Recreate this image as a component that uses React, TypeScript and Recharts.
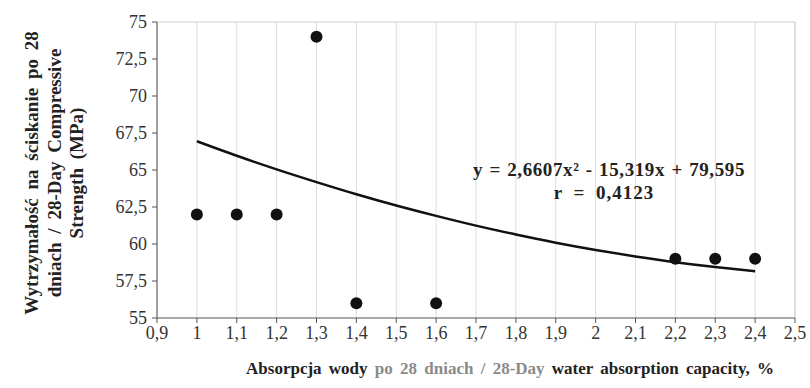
import React from 'react';
import {
  ComposedChart,
  Scatter,
  Line,
  XAxis,
  YAxis,
  CartesianGrid,
  ReferenceLine,
  Label,
} from 'recharts';

// measured points (water absorption %, compressive strength MPa)
const absorption = [1, 1.1, 1.2, 1.3, 1.4, 1.6, 2.2, 2.3, 2.4];
const strength = [62, 62, 62, 74, 56, 56, 59, 59, 59];

// trend curve
const trendX = [1, 1.1, 1.2, 1.3, 1.4, 1.5, 1.6, 1.7, 1.8, 1.9, 2, 2.1, 2.2, 2.3, 2.4];
const trendY = [66.94, 65.96, 65.04, 64.18, 63.36, 62.6, 61.9, 61.24, 60.64, 60.09, 59.6, 59.16, 58.77, 58.44, 58.16];

const xTicks = [0.9, 1, 1.1, 1.2, 1.3, 1.4, 1.5, 1.6, 1.7, 1.8, 1.9, 2, 2.1, 2.2, 2.3, 2.4, 2.5];
const yTicks = [55, 57.5, 60, 62.5, 65, 67.5, 70, 72.5, 75];

const yTitle = ['Wytrzymałość na ściskanie po 28', 'dniach / 28-Day Compressive', 'Strength (MPa)'];
const equation = ['y = 2,6607x² - 15,319x + 79,595', 'r = 0,4123'];

const points = absorption.map((x, i) => ({ x, y: strength[i] }));
const trend = trendX.map((x, i) => ({ x, y: trendY[i] }));

const FONT = "'Liberation Serif', 'DejaVu Serif', 'Times New Roman', Times, serif";
const comma = (v: number) => String(v).replace('.', ',');

const YTitle = () => (
  <g>
    {yTitle.map((line, i) => (
      <text
        key={line}
        x={0}
        y={0}
        transform={`translate(${38 + i * 22.5}, 173) rotate(-90)`}
        textAnchor="middle"
        fontSize={19}
        fontWeight="bold"
        wordSpacing={4}
        fill="#222"
        style={{ fontFamily: FONT }}
      >
        {line}
      </text>
    ))}
  </g>
);

const XTitle = () => (
  <text
    x={510}
    y={374}
    textAnchor="middle"
    fontSize={17}
    fontWeight="bold"
    wordSpacing={3}
    fill="#222"
    style={{ fontFamily: FONT }}
  >
    Absorpcja wody <tspan fill="#8a8a8a">po 28 dniach / 28-Day</tspan> water absorption capacity, %
  </text>
);

const Dot = (props: any) => <circle cx={props.cx} cy={props.cy} r={6} fill="#111" />;

const tickStyle = { fontSize: 18, fill: '#333', style: { fontFamily: FONT } };

export default function App() {
  return (
    <div style={{ position: 'absolute', left: 0, top: 0, width: 810, height: 388, background: '#fff', fontFamily: FONT }}>
      <ComposedChart width={810} height={388} margin={{ top: 22, right: 15, bottom: 0, left: 0 }}>
        <CartesianGrid vertical horizontal={false} stroke="#dcdcdc" />
        <ReferenceLine y={75} stroke="#d0d0d0" />
        <ReferenceLine x={2.5} stroke="#d0d0d0" />
        <XAxis
          type="number"
          dataKey="x"
          domain={[0.9, 2.5]}
          ticks={xTicks}
          tickFormatter={comma}
          interval={0}
          height={70}
          stroke="#555"
          tickSize={5}
          tickMargin={3}
          tick={tickStyle}
          allowDataOverflow
        >
          <Label content={<XTitle />} />
        </XAxis>
        <YAxis
          type="number"
          dataKey="y"
          domain={[55, 75]}
          ticks={yTicks}
          tickFormatter={comma}
          interval={0}
          width={157}
          stroke="#555"
          tickSize={5}
          tickMargin={5}
          tick={tickStyle}
          allowDataOverflow
        >
          <Label content={<YTitle />} />
        </YAxis>
        <Line
          data={trend}
          dataKey="y"
          type="monotone"
          stroke="#111"
          strokeWidth={2.5}
          dot={false}
          activeDot={false}
          isAnimationActive={false}
        />
        <Scatter data={points} dataKey="y" fill="#111" shape={<Dot />} isAnimationActive={false} />
      </ComposedChart>
      <div
        style={{
          position: 'absolute',
          left: 409,
          top: 158,
          width: 400,
          textAlign: 'center',
          fontFamily: FONT,
          fontSize: 19,
          fontWeight: 'bold',
          color: '#222',
          lineHeight: '23px',
          whiteSpace: 'nowrap',
        }}
      >
        <div style={{ letterSpacing: 0.6, wordSpacing: 1 }}>{equation[0]}</div>
        <div style={{ marginLeft: -10, letterSpacing: 1, wordSpacing: 5 }}>{equation[1]}</div>
      </div>
    </div>
  );
}
